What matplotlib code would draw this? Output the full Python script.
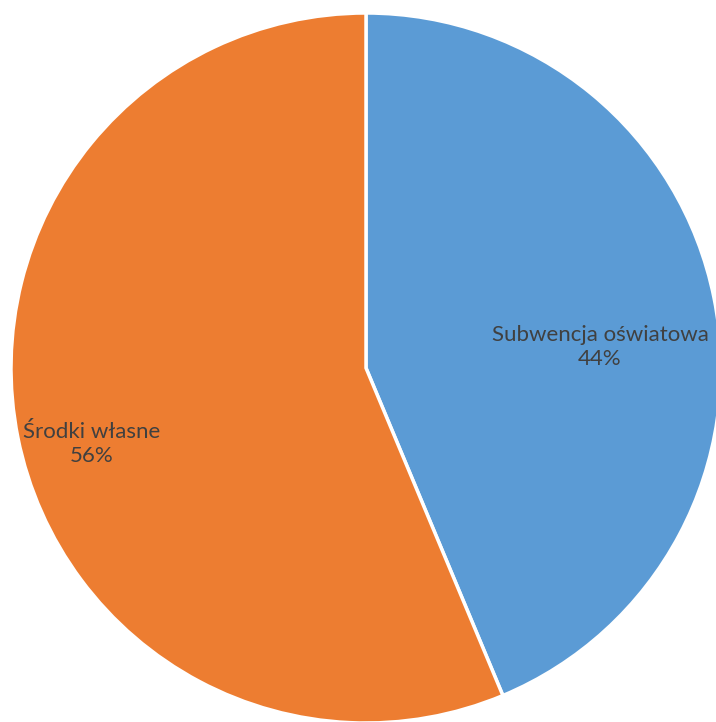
import matplotlib
matplotlib.use("Agg")
import matplotlib.pyplot as plt

categories = ["Subwencja oświatowa", "Środki własne"]
values = [43.7, 56.3]
colors = ["#5B9BD5", "#ED7D31"]
label_pos = [(600, 722 - 347), (92, 722 - 444)]

fig = plt.figure(figsize=(7.16, 7.22), dpi=100)
ax = fig.add_axes([0, 0, 1, 1])
ax.pie(values, colors=colors, startangle=90, counterclock=False,
       center=(366, 722 - 368), radius=355, frame=True,
       wedgeprops=dict(edgecolor="white", linewidth=2.5))
ax.set_xlim(0, 716)
ax.set_ylim(0, 722)
ax.set_aspect("equal")
ax.axis("off")

total = sum(values)
for name, v, (x, y) in zip(categories, values, label_pos):
    ax.text(x, y, f"{name}\n{v / total * 100:.0f}%", ha="center", va="center",
            fontsize=16, color="#404040", family=["Lato", "DejaVu Sans"],
            linespacing=1.2)

fig.savefig("out.png", dpi=100)
